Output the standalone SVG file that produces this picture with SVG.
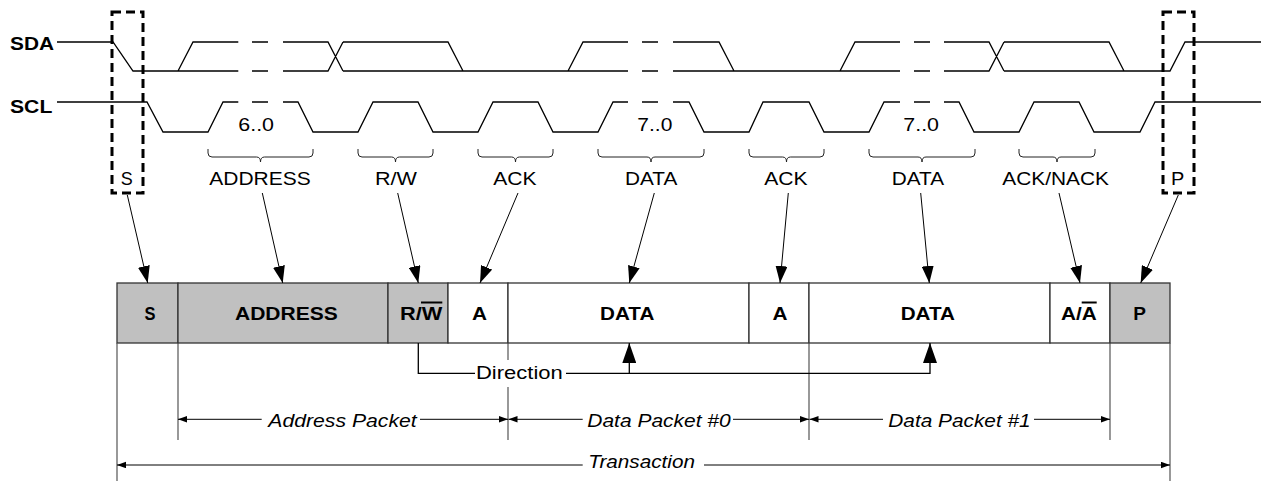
<svg xmlns="http://www.w3.org/2000/svg" width="1261" height="483" viewBox="0 0 1261 483">
<style>
.w{fill:none;stroke:#000;stroke-width:1.3;stroke-linejoin:miter}
.t{font-family:"Liberation Sans",Arial,Helvetica,sans-serif;fill:#000}
.lbl{font-size:18.8px}
.sig{font-size:17.5px;font-weight:bold}
.bx{font-size:17.5px;font-weight:bold}
.it{font-size:18.8px;font-style:italic}
.brace{fill:none;stroke:#222;stroke-width:1}
.dbox{fill:none;stroke:#000;stroke-width:3;stroke-dasharray:9 5}
.cell{stroke:#333;stroke-width:1.3}
.gray{fill:#c0c0c0}
.white{fill:#fff}
.ext{fill:none;stroke:#555;stroke-width:1.2}
.arr{fill:none;stroke:#000;stroke-width:1;marker-end:url(#ah)}
.uarr{fill:none;stroke:#000;stroke-width:1.3;marker-end:url(#uh)}
.dim{fill:none;stroke:#000;stroke-width:1;marker-end:url(#dh)}
.ov{stroke:#000;stroke-width:2}
</style>
<defs>
<marker id="ah" markerUnits="userSpaceOnUse" markerWidth="18" markerHeight="12" refX="17" refY="6" orient="auto" viewBox="0 0 18 12"><path d="M0,0 L17,6 L0,12 z" fill="#000"/></marker>
<marker id="uh" markerUnits="userSpaceOnUse" markerWidth="20" markerHeight="14" refX="20" refY="7" orient="auto" viewBox="0 0 20 14"><path d="M0,0 L20,7 L0,14 z" fill="#000"/></marker>
<marker id="dh" markerUnits="userSpaceOnUse" markerWidth="10" markerHeight="7" refX="9" refY="3.25" orient="auto" viewBox="0 0 10 7"><path d="M0,0 L9,3.25 L0,6.5 z" fill="#000"/></marker>
</defs>

<g id="sda">
<text class="t sig" x="10" y="50" textLength="44" lengthAdjust="spacingAndGlyphs">SDA</text>
<path class="w" d="M57,42 H113 L133,71 H238.3 M178,71 L193,42 H238.3 M252,42 H268 M252,71 H268 M283,42 H328 L343,71 M283,71 H328 L343,42 M343,42 H448 L463,71 M343,71 H628 M568,71 L583,42 H628 M642,42 H658 M642,71 H658 M673,42 H719 L734,71 M673,71 H900 M840,71 L855,42 H900 M914,42 H930 M914,71 H930 M944,42 H989 L1004,71 M944,71 H989 L1004,42 M1004,42 H1109 L1124,71 M1004,71 H1170 L1185,42 H1261"/>
</g>

<g id="scl">
<text class="t sig" x="10" y="113" textLength="42.3" lengthAdjust="spacingAndGlyphs">SCL</text>
<path class="w" d="M57,102 H147 L163,132 H208 L223,102 H238.3 M252,102 H268 M283,102 H298 L313,132 H358 L373,102 H418 L433,132 H478 L493,102 H538 L553,132 H598 L613,102 H628 M642,102 H658 M673,102 H689 L704,132 H749 L763,102 H809 L824,132 H869 L884,102 H900 M914,102 H930 M944,102 H959 L974,132 H1019 L1034,102 H1079 L1094,132 H1140 L1155,102 H1261"/>
</g>

<g id="bit-labels">
<text class="t lbl" x="238.3" y="131" textLength="35.7" lengthAdjust="spacingAndGlyphs">6..0</text>
<text class="t lbl" x="637.3" y="131" textLength="35" lengthAdjust="spacingAndGlyphs">7..0</text>
<text class="t lbl" x="903.3" y="131" textLength="35.7" lengthAdjust="spacingAndGlyphs">7..0</text>
</g>

<g id="braces">
<path class="brace" d="M208,149 V153 Q208,157 212,157 H256.5 Q260.5,157 260.5,162 Q260.5,157 264.5,157 H309 Q313,157 313,153 V149"/>
<path class="brace" d="M358,149 V153 Q358,157 362,157 H391.5 Q395.5,157 395.5,162 Q395.5,157 399.5,157 H429 Q433,157 433,153 V149"/>
<path class="brace" d="M478,149 V153 Q478,157 482,157 H511.5 Q515.5,157 515.5,162 Q515.5,157 519.5,157 H549 Q553,157 553,153 V149"/>
<path class="brace" d="M598,149 V153 Q598,157 602,157 H647 Q651,157 651,162 Q651,157 655,157 H700 Q704,157 704,153 V149"/>
<path class="brace" d="M749,149 V153 Q749,157 753,157 H782.5 Q786.5,157 786.5,162 Q786.5,157 790.5,157 H820 Q824,157 824,153 V149"/>
<path class="brace" d="M869,149 V153 Q869,157 873,157 H918 Q922,157 922,162 Q922,157 926,157 H971 Q975,157 975,153 V149"/>
<path class="brace" d="M1019,149 V153 Q1019,157 1023,157 H1053 Q1057,157 1057,162 Q1057,157 1061,157 H1091 Q1095,157 1095,153 V149"/>
</g>

<g id="start-marker">
<rect class="dbox" x="112" y="12" width="31" height="181"/>
<text class="t lbl" x="120.7" y="185" textLength="12" lengthAdjust="spacingAndGlyphs">S</text>
</g>
<g id="stop-marker">
<rect class="dbox" x="1163" y="12" width="31" height="181"/>
<text class="t lbl" x="1171" y="185" textLength="13.3" lengthAdjust="spacingAndGlyphs">P</text>
</g>

<g id="field-labels">
<text class="t lbl" x="209.3" y="185" textLength="101.4" lengthAdjust="spacingAndGlyphs">ADDRESS</text>
<text class="t lbl" x="375" y="185" textLength="42" lengthAdjust="spacingAndGlyphs">R/W</text>
<text class="t lbl" x="493.3" y="185" textLength="43.3" lengthAdjust="spacingAndGlyphs">ACK</text>
<text class="t lbl" x="625" y="185" textLength="52.3" lengthAdjust="spacingAndGlyphs">DATA</text>
<text class="t lbl" x="764.3" y="185" textLength="43.4" lengthAdjust="spacingAndGlyphs">ACK</text>
<text class="t lbl" x="891.7" y="185" textLength="52.3" lengthAdjust="spacingAndGlyphs">DATA</text>
<text class="t lbl" x="1002.3" y="185" textLength="106.7" lengthAdjust="spacingAndGlyphs">ACK/NACK</text>
</g>

<g id="frame">
<g id="cell-s"><rect class="cell gray" x="117" y="283" width="61" height="60"/><text class="t bx" x="144.5" y="320" textLength="11" lengthAdjust="spacingAndGlyphs">S</text></g>
<g id="cell-address"><rect class="cell gray" x="178" y="283" width="210" height="60"/><text class="t bx" x="235" y="320" textLength="102.7" lengthAdjust="spacingAndGlyphs">ADDRESS</text></g>
<g id="cell-rw"><rect class="cell gray" x="388" y="283" width="60" height="60"/><text class="t bx" x="400" y="320" textLength="42.3" lengthAdjust="spacingAndGlyphs">R/W</text><line class="ov" x1="421" y1="302.5" x2="442.3" y2="302.5"/></g>
<g id="cell-a1"><rect class="cell white" x="448" y="283" width="60" height="60"/><text class="t bx" x="472" y="320" textLength="15" lengthAdjust="spacingAndGlyphs">A</text></g>
<g id="cell-data0"><rect class="cell white" x="508" y="283" width="241" height="60"/><text class="t bx" x="600" y="320" textLength="54.3" lengthAdjust="spacingAndGlyphs">DATA</text></g>
<g id="cell-a2"><rect class="cell white" x="749" y="283" width="60" height="60"/><text class="t bx" x="772.5" y="320" textLength="15" lengthAdjust="spacingAndGlyphs">A</text></g>
<g id="cell-data1"><rect class="cell white" x="809" y="283" width="241" height="60"/><text class="t bx" x="900.7" y="320" textLength="54.3" lengthAdjust="spacingAndGlyphs">DATA</text></g>
<g id="cell-an"><rect class="cell white" x="1050" y="283" width="60" height="60"/><text class="t bx" x="1061" y="320" textLength="35.7" lengthAdjust="spacingAndGlyphs">A/A</text><line class="ov" x1="1081.7" y1="302.5" x2="1096.7" y2="302.5"/></g>
<g id="cell-p"><rect class="cell gray" x="1110" y="283" width="60" height="60"/><text class="t bx" x="1133.3" y="320" textLength="12.7" lengthAdjust="spacingAndGlyphs">P</text></g>
</g>

<g id="extension-lines">
<path class="ext" d="M117,343 V481 M178,343 V440 M508,343 V360 M508,387 V440 M809,343 V440 M1110,343 V440 M1170,343 V481"/>
</g>

<g id="connectors">
<line class="arr" x1="127.3" y1="195" x2="147.7" y2="283"/>
<line class="arr" x1="262.3" y1="193" x2="282.7" y2="283"/>
<line class="arr" x1="397.7" y1="193" x2="418.3" y2="283"/>
<line class="arr" x1="518" y1="193" x2="480" y2="283"/>
<line class="arr" x1="654.3" y1="193" x2="629.3" y2="283"/>
<line class="arr" x1="788.3" y1="193" x2="780" y2="283"/>
<line class="arr" x1="920.7" y1="193" x2="929.3" y2="283"/>
<line class="arr" x1="1059" y1="193" x2="1080" y2="283"/>
<line class="arr" x1="1178.3" y1="195" x2="1140.7" y2="283"/>
<path class="w" d="M418.3,343 V373.3 H475"/>
<path class="uarr" d="M566,373.3 H930 V343"/>
<path class="uarr" d="M629.3,373.3 V343"/>
</g>

<g id="direction">
<text class="t lbl" x="476" y="379.3" textLength="86.7" lengthAdjust="spacingAndGlyphs">Direction</text>
</g>

<g id="dimensions">
<path class="dim" d="M261.7,419.3 H178"/>
<path class="dim" d="M420,419.3 H508"/>
<path class="dim" d="M582.7,419.3 H508.5"/>
<path class="dim" d="M733,419.3 H809"/>
<path class="dim" d="M883,419.3 H809.5"/>
<path class="dim" d="M1034,419.3 H1110"/>
<path class="dim" d="M582.7,465 H117"/>
<path class="dim" d="M704,465 H1170"/>
<text class="t it" x="268.3" y="426.7" textLength="148.4" lengthAdjust="spacingAndGlyphs">Address Packet</text>
<text class="t it" x="587.3" y="426.7" textLength="143.4" lengthAdjust="spacingAndGlyphs">Data Packet #0</text>
<text class="t it" x="888.3" y="426.7" textLength="142.4" lengthAdjust="spacingAndGlyphs">Data Packet #1</text>
<text class="t it" x="588.3" y="468.3" textLength="106.7" lengthAdjust="spacingAndGlyphs">Transaction</text>
</g>
</svg>
